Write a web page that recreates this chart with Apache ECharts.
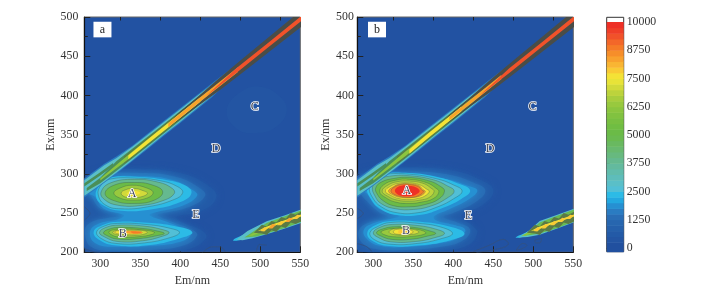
<!DOCTYPE html>
<html><head><meta charset="utf-8">
<style>html,body{margin:0;padding:0;background:#fff}#c{width:719px;height:299px;filter:blur(0.35px)}</style>
<script src="https://cdn.jsdelivr.net/npm/echarts@6/dist/echarts.min.js"></script>
</head><body><div id="c"></div>
<script>
const emMajor=[300,350,400,450,500,550];
const emMinor=[325,375,425,475,525];
const barTicks=[0,1250,2500,3750,5000,6250,7500,8750,10000];
const barColors=['#21509f','#2355a3','#235aa7','#2560ab','#2766af','#296db5','#2a7cc2','#2690d2','#23a8e0','#2cbbe6','#52bfd6','#5abfc8','#5ebdba','#61bcac','#63ba9e','#65b98f','#67b97f','#68b96f','#69b960','#6aba50','#6bbb47','#70bd43','#78bf41','#81c240','#8bc53f','#98c93e','#a8cd3d','#bcd33c','#d2da3a','#e8e338','#f4e236','#f9ca35','#f9b533','#f8a12e','#f68e2a','#f57b27','#f36729','#f1522a','#ef3f28','#ee3026'];

// ---- panel a: fluorescence contours, [Em, Ex]
const aC=[[458,381],[475,404],[500,411],[525,398],[533,380],[520,360],[495,352],[470,358]];
const aHalo500=[[300,302],[350,306],[400,301],[435,285],[445,270],[425,252],[395,245],[405,237],[428,227],[432,218],[410,204],[366,200],[320,200],[285,202],[276,222],[276,285]];
const aHalo1000=[[305,298],[350,301],[395,296],[424,282],[431,272],[412,258],[375,249],[372,247],[392,238],[416,228],[421,221],[405,209],[366,203],[320,202],[290,206],[281,222],[285,236],[310,244],[332,247],[300,256],[288,272],[278,282]];
const aHalo1500=[[308,294],[350,297],[391,292],[416,279],[421,272],[404,260],[366,250],[362,247],[383,239],[408,228],[413,222],[400,213.5],[366,208.4],[320,207],[295,211],[287,224],[295,235],[325,243],[329,247.5],[304,256],[293,271],[283,277]];
const aA2000=[[309,294.6],[342.5,296.3],[384,292],[405,285.7],[414,276],[401,264.4],[363,254.6],[326,253],[305,259],[294.6,271],[299,285.7]];
const aA2500=[[311,293],[342.5,294.6],[376,291],[397,283.5],[403,276],[392.5,267.4],[359,258],[326,255.5],[307,260],[297.5,273],[301,285.7]];
const aA3750=[[342.5,293],[372,289.5],[390,281.4],[392.5,275],[380,266.5],[351,259.7],[322,260],[305,267.4],[301,277],[313,288.6]];
const aA5000=[[342.5,289],[365.4,285.7],[378,277],[367.5,266.5],[342.5,262.3],[317.5,265.7],[306,275],[317.5,285.7]];
const aA6250=[[340,285.5],[358,282],[366,276],[358,269],[340,266.5],[325,269],[317,275.5],[325,282]];
const aA7000=[[342,281.5],[355,278],[359,275],[352,271],[340,269.5],[330,271],[326,275.5],[331,279.5]];
const aA7500=[[342,278],[350,276],[345,273],[337,272.5],[333,275]];
const aB2000=[[321.7,239],[359,237.6],[392.5,233.4],[415,225.7],[399,217.7],[359,209],[317.5,209],[299,215.6],[291.7,226],[303,234.7]];
const aB2500=[[321.7,236.8],[357,235.5],[388,230.4],[399,225.3],[388,219],[355,212],[319.6,211.3],[301,217.7],[295.4,226],[305,233.4]];
const aB3750=[[323.7,234.7],[355,233.4],[380,228.3],[386,224.9],[378,220.6],[353,214.7],[321.7,213.8],[305,219.8],[299,225.3],[307,231.7]];
const aB5000=[[323.7,231.7],[353,230.4],[371.7,227],[380,224],[369.6,221],[351,217.7],[321.7,216.8],[307,222],[304,225.3],[311,229.6]];
const aB6250=[[323.7,229.6],[351,228.7],[367.5,225.7],[365.4,223],[346.7,219.8],[323.7,219.4],[312.5,223.2],[311,226.6]];
const aB7000=[[321.7,228.3],[346.7,228.3],[359,225.7],[348.8,222],[323.7,222],[315.4,225.3]];
const aB7500=[[321.7,227.5],[351,226.6],[351.7,224.5],[334,222.8],[323.7,223.2],[318,225.7]];
const aB8250=[[332,227],[353,225.7],[344.6,223.6],[332,225]];
const aB8750=[[338,226.6],[351.7,225.7],[342.5,224]];

// ---- scatter band along Em = Ex (shared outer layers)
const diagHalo=[[280,294],[305,313],[320,322],[340,336],[360,352],[380,368],[400,384],[420,400],[440,416],[462,433],[462,420],[440,398],[420,381.5],[400,365],[380,349],[360,332.5],[340,316],[320,300],[300,285],[280,270]];
const diagTeal=[[280,292],[305,311],[320,320],[340,334.5],[360,350.5],[380,366.5],[400,382.5],[420,398.5],[440,414],[458,428],[458,422],[440,400],[420,383],[400,366.5],[380,350.5],[360,334],[340,317.5],[320,301.5],[300,286],[280,272]];
const diagGreen=[[283,282],[300,295],[320,316],[340,332],[360,348],[380,364],[400,380],[420,396],[445,414],[420,385],[400,368.5],[380,352],[360,336],[340,319.5],[320,303.5],[300,288],[283,278]];
const diagBranch=[[280,288],[300,302],[316,314],[316,310],[300,298],[280,284]];
const diagOlive=[[330,322],[360,346.8],[400,379.5],[420,395.8],[420,385.8],[400,369.5],[360,336.8],[330,313]];
const diagDark=[[385,365],[400,379.5],[420,396.8],[450,423.3],[480,448.8],[510,473.8],[530,490.7],[560,515.7],[560,494.7],[530,470.7],[510,454.8],[480,430.8],[450,407.3],[420,384.8],[400,369.5],[385,359]];
const diagLime=[[300,294],[340,328.4],[380,361],[420,393.8],[440,409],[440,405],[420,387.8],[380,355],[340,322.4],[300,291.5]];
const aDiagYellow=[[335,323.5],[360,344.6],[400,377.3],[425,397.5],[425,392],[400,371.7],[360,339],[335,318.5]];
const aDiagOrange=[[385,364.5],[420,393.5],[472,436],[472,430],[420,388],[385,359.5]];
const diagRed=[[432,399],[470,434.6],[510,467.3],[560,508.5],[560,502],[510,461.3],[470,428.6]];
const bDiagYellow=[[345,331],[370,352.8],[410,385.5],[410,379.5],[370,347],[345,325.5]];
const bDiagOrange=[[395,372.7],[425,397.5],[460,426],[460,420.5],[425,392],[395,368.5]];

// ---- second-order streak
const aTipCyan=[[466,215.5],[476,221],[488,226],[480,218],[472,215]];
const aTipTeal=[[470,216],[484,227],[508,239.5],[530,247],[555,256],[555,239],[530,230],[508,223],[490,218],[478,215.5]];
const aTipGreen=[[480,219],[495,229],[508,237.5],[530,245.5],[555,255],[555,240],[530,231],[508,224],[495,220]];
const bTipCyan=[[478,219],[488,224],[496,227.5],[490,221],[483,218.7]];
const bTipTeal=[[481,219],[494,227],[508,240],[530,248],[555,257],[555,240],[530,230.5],[508,222.5],[493,219.5]];
const bTipGreen=[[488,221],[498,229],[508,238],[530,246.5],[555,256],[555,241],[530,231],[508,224],[497,222]];
const streakLime=[[485,221],[508,233],[555,251],[555,245.5],[508,228.5],[490,221]];
const streakOlive=[[492,225],[502,235],[508,233],[514,240],[520,238],[526,245],[532,243],[538,250],[544,248],[555,254],[555,241],[544,236],[538,238],[532,231],[526,233],[520,226],[514,228],[508,222],[502,224]];
const streakYellow=[[497,227],[504,231],[514,235],[525,239],[535,242.6],[555,249.8],[555,247],[535,240],[525,236.5],[514,232.5],[504,228.5]];
const bead1=[[500,227],[505,232],[510,231],[505,226.5]];
const bead2=[[510,230.5],[515,236],[520,235],[515,230.5]];
const bead3=[[521,234.5],[526,240],[531,239],[526,234.5]];
const bead4=[[531,238.5],[536,244],[541,243],[536,238.5]];
const bead5=[[541,242.5],[546,248],[551,247],[546,242.5]];

// ---- panel b
const bHalo500=[[300,305],[345,308],[400,304],[432,293],[450,279],[436,260],[410,247],[425,233],[430,225],[418,209],[385,202],[340,199],[295,199],[276,210],[276,290]];
const bHalo1000=[[305,301],[345,303],[395,299],[425,289],[440,279],[428,264],[400,250],[388,245],[405,238],[421,229],[412,215],[385,207],[342,203],[305,204],[286,212],[282,228],[295,238],[318,244],[306,252],[292,265],[282,278],[278,290]];
const bHalo1500=[[305,297],[345,298.5],[390,293.5],[418,285],[430,279],[420,268],[395,255],[376,246],[378,241],[400,235],[415,228.4],[405,218],[385,212],[342,207],[310,208],[293,216],[288,228],[300,237],[325,243.5],[332,246],[312,253],[302,260],[292,275],[283,281]];
const bA2000=[[310,300],[345,301],[380,296],[405,288],[421,279],[410,268],[385,256],[360,248],[330,247.4],[308,256],[297,268],[292,282],[298,294]];
const bA2500=[[312,299],[345,299.5],[378,294],[400,286],[411,278],[400,268],[378,257],[355,250.4],[330,250.4],[310,258],[299,270],[295,283],[300,293]];
const bA3750=[[320,297],[345,297.6],[375,292.5],[392,285],[401,278],[392,269],[372,259],[350,254.6],[328,255.5],[310,262],[302,272],[299,283],[305,292]];
const bA5000=[[325,294],[345,295.5],[370,291],[384,284],[389,278],[382,268],[365,261],[345,258],[325,259.5],[312,266],[305,274],[303,282],[310,289.5]];
const bA6250=[[328,292],[345,293],[366,289],[378,282],[382,277],[375,268.5],[360,264],[345,262.3],[328,264],[315,270],[308,277],[313,286]];
const bA6875=[[330,290],[345,290.8],[362,288],[372,282],[376,277.5],[370,270],[358,266.5],[345,265.3],[330,266.5],[318,271.5],[311,278],[318,285.5]];
const bA7500=[[332,288],[345,288.6],[358,286],[366,281],[370,277.5],[364,271.5],[355,268.5],[345,267.4],[332,268.5],[322,272.5],[315,278],[322,284.5]];
const bA8250=[[333,287],[345,287.5],[357,285],[362,280],[365,277.5],[360,272.5],[350,270],[335,270],[325,273],[319,278],[325,283.5]];
const bA8750=[[335,286.5],[345,286.5],[356,284],[361,279],[363,277.5],[358,273],[348,270],[335,271],[326,274],[322,278],[326,283]];
const bA9750=[[335,285],[345,285],[353,283],[358,278],[353,273.5],[345,271.6],[335,272],[329,275],[327,279],[330,283]];
const bB2000=[[321.7,240],[359,239],[392.5,233.4],[414,224],[396.7,215.5],[359,209],[319.6,208],[298.7,214.7],[292.5,225],[303,234.7]];
const bB2500=[[321.7,238],[357,236.8],[386,231.7],[399,224],[386,217.7],[355,211.3],[319.6,210.5],[301,216.4],[295.8,225],[305,232.5]];
const bB3750=[[323.7,235.5],[355,234.2],[380,229],[389,224],[378,219],[353,213.8],[321.7,213.4],[306,219],[300,225],[308,231.7]];
const bB5000=[[326,232.5],[351,231.7],[369.6,227.5],[378,224],[367.5,220.6],[348.8,216.8],[323.7,216.4],[309,221],[304,225.3],[312.5,230]];
const bB6250=[[326,230.4],[348.8,230],[363,227],[365.4,224],[351,220.6],[326,219.8],[312.5,223],[310,226.6]];
const bB7000=[[326.7,230],[346.7,229.6],[357,226],[348.8,222.8],[328,222.3],[319.6,225.7]];
const bB7500=[[328,229],[344.6,229],[350,226],[344.6,223.2],[329,223.2],[325,226]];
const bB7750=[[332,228.3],[342.5,228.3],[344.6,225.7],[340.4,224],[332,224]];

// ---- faint low-level contour fragments
const aFaint=[[[280,258],[287,249.6],[280,241]],[[280,205],[291,201],[300,200]],[[428,200],[440,207],[450,207],[456,201]],[[495,200],[499,210],[508,209]]];
const bFaint=[[[280,256],[287.5,249.6],[280,243]],[[280,211],[292,207],[298,201]],[[425,201],[445,209],[462.5,216.5],[469,211],[458.5,205],[429,200]],[[479,203],[487,211.4],[492,209],[483.5,203.7],[479,203]],[[502,215.6],[510.4,217.8],[508.3,212],[503,212],[502,215.6]]];

const aLetters=[[339.6,274,'A'],[328,223,'B'],[493,385,'C'],[444.6,331.6,'D'],[419.6,247.4,'E']];
const bLetters=[[342,278.5,'A'],[341,227,'B'],[499,385,'C'],[445.9,331.6,'D'],[419,246.6,'E']];

const D=0,S=1,N=2; // D plain round fill, S round fill with contour line, N straight-edged
const aLayers=[
[300,D,aC],[500,D,aHalo500],[1250,D,aHalo1000],[1750,D,aHalo1500],
[2250,D,aA2000],[2500,S,aA2500],[3750,S,aA3750],[5000,S,aA5000],[6250,S,aA6250],[7000,S,aA7000],[7500,D,aA7500],
[2250,D,aB2000],[2500,S,aB2500],[3750,S,aB3750],[5000,S,aB5000],[6250,S,aB6250],[7000,S,aB7000],[7500,S,aB7500],[8250,D,aB8250],[8750,D,aB8750],
[1500,N,diagHalo],[2750,N,diagTeal],[-3,N,diagGreen],[-3,N,diagBranch],[-1,N,diagOlive],[-2,N,diagDark],[6000,N,diagLime],[7500,N,aDiagYellow],[8250,N,aDiagOrange],[9250,N,diagRed],
[2250,D,aTipCyan],[2750,N,aTipTeal],[4750,N,aTipGreen],[6000,N,streakLime],[-1,N,streakOlive],[7500,N,streakYellow],[7750,N,bead1],[8250,N,bead2],[7750,N,bead3],[8250,N,bead4],[7750,N,bead5]];
const bLayers=[
[500,D,bHalo500],[1250,D,bHalo1000],[1750,D,bHalo1500],
[2250,D,bA2000],[2500,S,bA2500],[3750,S,bA3750],[5000,S,bA5000],[6250,S,bA6250],[6875,S,bA6875],[7500,S,bA7500],[8250,S,bA8250],[8750,S,bA8750],[9750,D,bA9750],
[2250,D,bB2000],[2500,S,bB2500],[3750,S,bB3750],[5000,S,bB5000],[6250,S,bB6250],[7000,S,bB7000],[7500,S,bB7500],[7750,D,bB7750],
[1500,N,diagHalo],[2750,N,diagTeal],[-3,N,diagGreen],[-3,N,diagBranch],[-1,N,diagOlive],[-2,N,diagDark],[6000,N,diagLime],[7500,N,bDiagYellow],[8250,N,bDiagOrange],[9250,N,diagRed],
[2250,D,bTipCyan],[2750,N,bTipTeal],[4750,N,bTipGreen],[6000,N,streakLime],[-1,N,streakOlive],[7500,N,streakYellow],[7750,N,bead1],[7750,N,bead2],[7750,N,bead3],[7750,N,bead4],[7750,N,bead5]];

const SERIF='"Liberation Serif","Times New Roman",serif';
const INK='#333';
function fill(level){
  if(level===-1) return '#5a7a45';
  if(level===-2) return '#4a4d47';
  if(level===-3) return '#4a8f58';
  return barColors[Math.min(barColors.length-1,Math.floor(level/250))];
}
function contourSeries(layers,xi,yi){
  return {type:'custom',xAxisIndex:xi,yAxisIndex:yi,clip:true,silent:true,z:2,
    data:layers.map((l,i)=>[i]),
    renderItem(p,api){
      const l=layers[api.value(0)];
      const pts=l[2].map(q=>api.coord(q));
      const st={fill:fill(l[0])};
      if(l[1]===S){st.stroke='rgba(45,70,70,.5)';st.lineWidth=.6;}
      if(l[1]===D&&l[0]>=500&&l[0]<=1750){st.shadowBlur=7;st.shadowColor=st.fill;}
      return {type:'polygon',shape:{points:pts,smooth:l[1]===N?0:0.45},style:st};
    }};
}
function faintSeries(list,xi,yi){
  return list.map(d=>({type:'line',xAxisIndex:xi,yAxisIndex:yi,data:d,smooth:.4,showSymbol:false,silent:true,z:3,
    lineStyle:{color:'#34507f',width:.8}}));
}
function letterSeries(list,xi,yi){
  return {type:'scatter',xAxisIndex:xi,yAxisIndex:yi,symbolSize:0,silent:true,z:5,data:list,itemStyle:{opacity:1},
    label:{show:true,position:'inside',formatter:p=>p.value[2],fontFamily:SERIF,fontSize:12,color:'#3c4150',textBorderColor:'#fff',textBorderWidth:1.6}};
}
function boxSeries(em,ex,t,xi,yi){
  return {type:'scatter',xAxisIndex:xi,yAxisIndex:yi,symbolSize:0,silent:true,z:5,data:[[em,ex,t]],itemStyle:{opacity:1},
    label:{show:true,position:'inside',formatter:p=>p.value[2],fontFamily:SERIF,fontSize:12,color:'#222',backgroundColor:'#fff',width:18,height:15.6,lineHeight:15.6,align:'center',verticalAlign:'middle'}};
}
const tickLine={color:'#222',width:1};
const numLabel={fontFamily:SERIF,fontSize:11.8,color:INK};
function mainX(gi){return {gridIndex:gi,type:'value',min:280,max:550,name:'Em/nm',nameLocation:'middle',nameGap:19,
  nameTextStyle:{fontFamily:SERIF,fontSize:12,color:INK},
  axisLine:{show:true,onZero:false,lineStyle:{color:'#111',width:1.2}},
  axisTick:{show:true,inside:true,length:6,customValues:emMajor,lineStyle:tickLine},
  axisLabel:{margin:6,customValues:emMajor,...numLabel},splitLine:{show:false}};}
function minorX(gi){return {gridIndex:gi,type:'value',min:280,max:550,
  axisLine:{show:false},axisTick:{show:true,inside:true,length:3.5,customValues:emMinor,lineStyle:tickLine},
  axisLabel:{show:false},splitLine:{show:false}};}
function mainY(gi,nameGap,margin){return {gridIndex:gi,type:'value',min:200,max:500,interval:50,name:'Ex/nm',nameLocation:'middle',nameGap:nameGap,
  nameTextStyle:{fontFamily:SERIF,fontSize:12,color:INK},
  axisLine:{show:true,onZero:false,lineStyle:{color:'#111',width:1.2}},
  axisTick:{show:true,inside:true,length:6,lineStyle:tickLine},
  minorTick:{show:true,splitNumber:2,length:3.5,lineStyle:tickLine},
  axisLabel:{margin:margin,...numLabel},splitLine:{show:false},minorSplitLine:{show:false}};}
const plotBg='#2252a2';
const chart=echarts.init(document.getElementById('c'),null,{renderer:'canvas'});
chart.setOption({
  animation:false,backgroundColor:'#fff',
  grid:[
    {left:84.3,top:17,width:216,height:235.3,show:true,backgroundColor:plotBg,borderColor:'#666',borderWidth:1},
    {left:357.3,top:17,width:216,height:235.3,show:true,backgroundColor:plotBg,borderColor:'#666',borderWidth:1},
    {left:606.7,top:17.3,width:17,height:234.4,show:true,backgroundColor:'#fff',borderColor:'#333',borderWidth:1}
  ],
  xAxis:[mainX(0),minorX(0),mainX(1),minorX(1),{gridIndex:2,type:'value',min:0,max:1,show:false}],
  yAxis:[mainY(0,26,6),mainY(1,20,3.5),{gridIndex:2,type:'value',position:'right',min:-164,max:10208,
    axisLine:{show:false},splitLine:{show:false},
    axisTick:{show:true,inside:false,length:3,customValues:barTicks,lineStyle:{color:'#333',width:1}},
    axisLabel:{margin:3,customValues:barTicks,align:'left',formatter:v=>String(v),...numLabel}}],
  series:[
    contourSeries(aLayers,0,0),...faintSeries(aFaint,0,0),letterSeries(aLetters,0,0),boxSeries(302.7,484,'a',0,0),
    contourSeries(bLayers,2,1),...faintSeries(bFaint,2,1),letterSeries(bLetters,2,1),boxSeries(304.6,484,'b',2,1),
    {type:'custom',xAxisIndex:4,yAxisIndex:2,silent:true,z:2,data:barColors.map((c,i)=>[i]),
     renderItem(p,api){
       const i=api.value(0);
       const lo=i===0?-164:i*250, hi=(i+1)*250;
       const a=api.coord([0,hi]),b=api.coord([1,lo]);
       return {type:'rect',shape:{x:a[0],y:a[1],width:b[0]-a[0],height:b[1]-a[1]+.5},style:{fill:barColors[i]}};
     }}
  ]
});
</script></body></html>
